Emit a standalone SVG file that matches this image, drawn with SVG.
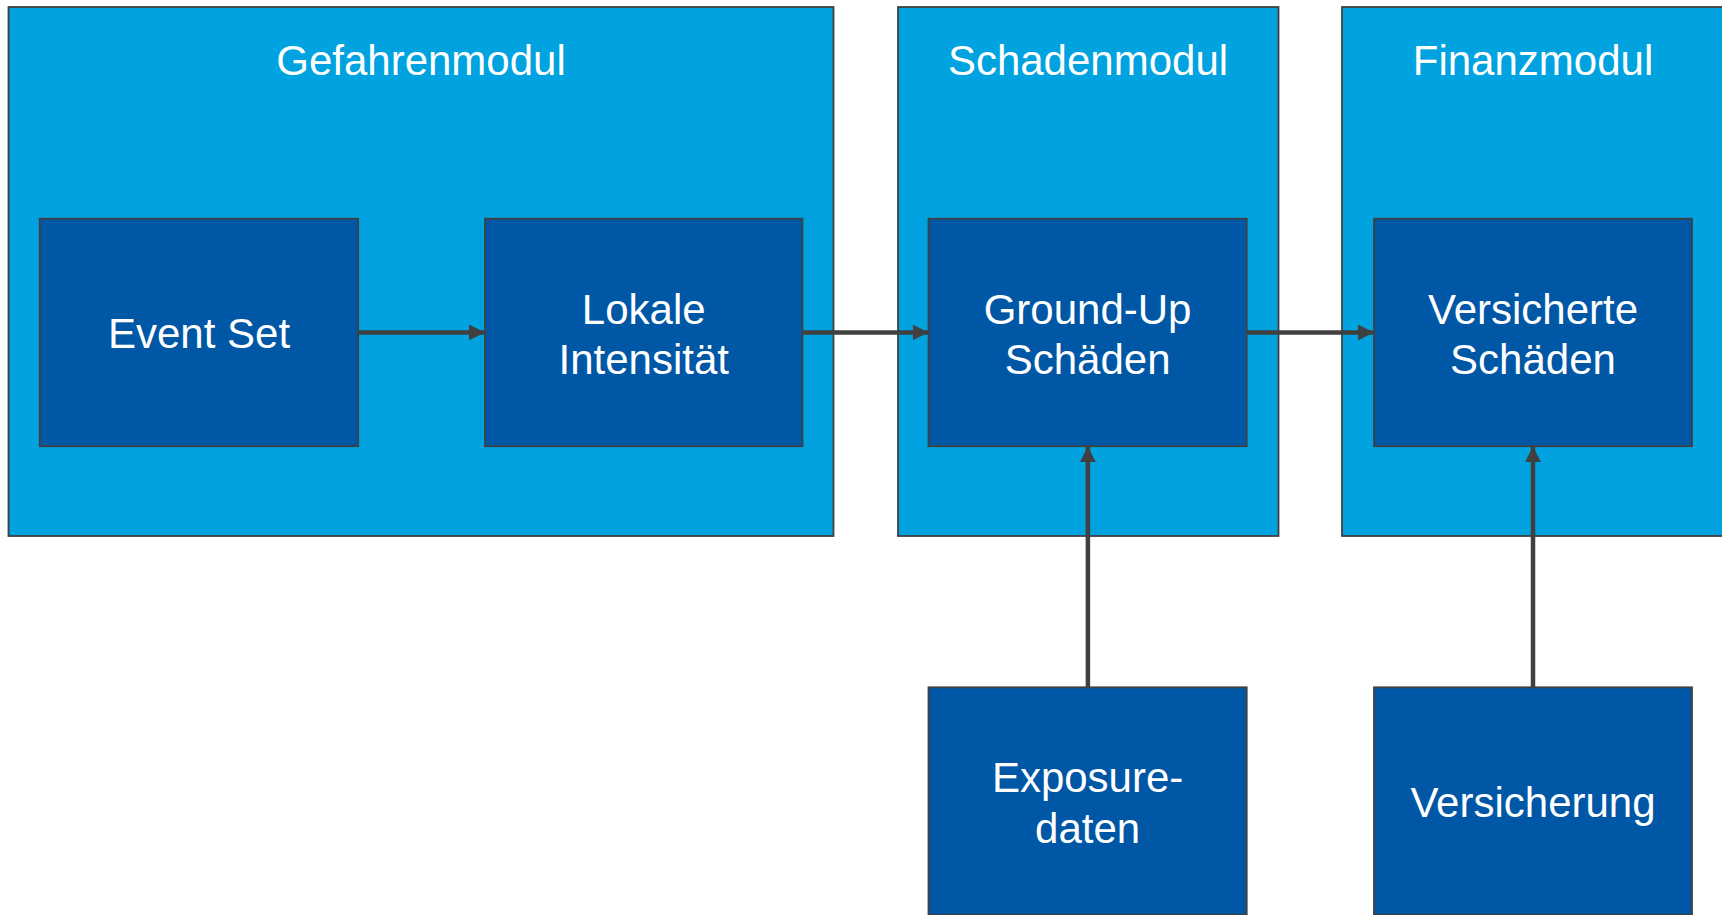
<svg xmlns="http://www.w3.org/2000/svg" width="1722" height="915" viewBox="0 0 1722 915">
<style>
.cont{fill:#00A3E0;stroke:#404040;stroke-width:1.8}
.box{fill:#0057A6;stroke:#404040;stroke-width:1.8}
.t{fill:#FFFFFF;font-family:"Liberation Sans",Arial,sans-serif;font-size:42px;text-anchor:middle}
.c{fill:none;stroke:#404040;stroke-width:4.5}
</style>
<defs>
<marker id="ah" markerUnits="userSpaceOnUse" markerWidth="16" markerHeight="16" refX="16" refY="8" orient="auto">
<path d="M0,0 L16,8 L0,16 Z" fill="#404040"/>
</marker>
</defs>
<rect width="1722" height="915" fill="#FFFFFF"/>
<g id="gefahrenmodul">
<rect class="cont" x="8.5" y="7" width="825" height="529"/>
<text class="t" x="421" y="75">Gefahrenmodul</text>
</g>
<g id="schadenmodul">
<rect class="cont" x="898" y="7" width="380.5" height="529"/>
<text class="t" x="1088" y="75">Schadenmodul</text>
</g>
<g id="finanzmodul">
<rect class="cont" x="1342" y="7" width="382" height="529"/>
<text class="t" x="1533" y="75">Finanzmodul</text>
</g>
<g id="event-set">
<rect class="box" x="39.7" y="218.7" width="318.5" height="227.5"/>
<text class="t" x="199" y="348">Event Set</text>
</g>
<g id="lokale-intensitaet">
<rect class="box" x="485" y="218.7" width="317.5" height="227.5"/>
<text class="t" x="643.7" y="323.5">Lokale</text>
<text class="t" x="643.7" y="373.5">Intensität</text>
</g>
<g id="ground-up">
<rect class="box" x="928.5" y="218.7" width="318.2" height="227.5"/>
<text class="t" x="1087.6" y="323.5">Ground-Up</text>
<text class="t" x="1087.6" y="373.5">Schäden</text>
</g>
<g id="versicherte-schaeden">
<rect class="box" x="1374" y="218.7" width="318" height="227.5"/>
<text class="t" x="1533" y="323.5">Versicherte</text>
<text class="t" x="1533" y="373.5">Schäden</text>
</g>
<g id="exposuredaten">
<rect class="box" x="928.5" y="687.3" width="318.2" height="227.5"/>
<text class="t" x="1087.6" y="792">Exposure-</text>
<text class="t" x="1087.6" y="842.5">daten</text>
</g>
<g id="versicherung">
<rect class="box" x="1374" y="687.3" width="318" height="227.5"/>
<text class="t" x="1533" y="816.5">Versicherung</text>
</g>
<g id="connectors">
<line class="c" x1="358.2" y1="332.4" x2="485" y2="332.4" marker-end="url(#ah)"/>
<line class="c" x1="802.5" y1="332.4" x2="928.5" y2="332.4" marker-end="url(#ah)"/>
<line class="c" x1="1246.7" y1="332.4" x2="1374" y2="332.4" marker-end="url(#ah)"/>
<line class="c" x1="1087.9" y1="687.3" x2="1087.9" y2="446.2" marker-end="url(#ah)"/>
<line class="c" x1="1533" y1="687.3" x2="1533" y2="446.2" marker-end="url(#ah)"/>
</g>
</svg>
